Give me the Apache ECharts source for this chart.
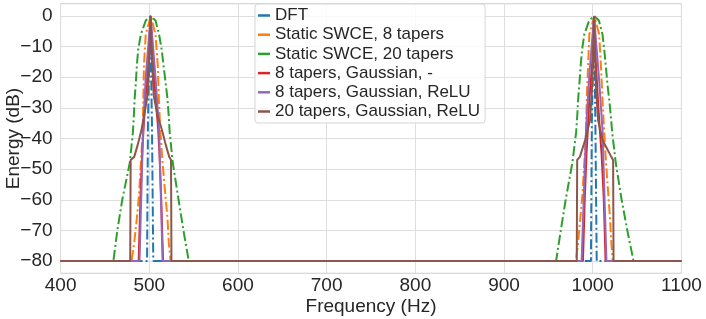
<!DOCTYPE html>
<html>
<head>
<meta charset="utf-8">
<script src="https://cdn.jsdelivr.net/npm/echarts@6/dist/echarts.min.js"></script>
<style>
html,body{margin:0;padding:0;background:#fff;}
#chart{width:706px;height:319px;}
</style>
</head>
<body>
<div id="chart"></div>
<script>
// ---- data (frequency in Hz, energy in dB) ----
const seriesNames = [
  'DFT',
  'Static SWCE, 8 tapers',
  'Static SWCE, 20 tapers',
  '8 tapers, Gaussian, -',
  '8 tapers, Gaussian, ReLU',
  '20 tapers, Gaussian, ReLU'
];
const seriesColors = ['#1f77b4', '#ff7f0e', '#2ca02c', '#d62728', '#9467bd', '#8c564b'];
const yTickValues = [-80, -70, -60, -50, -40, -30, -20, -10, 0];

const dft = [
  [400,-80],[497.5,-80],[498.5,-35],[501,0],[503,-35],[504.5,-80],
  [998,-80],[999,-35],[1001.5,0],[1003,-35],[1004.5,-80],[1100,-80]
];
const swce8 = [
  [400,-80],[480,-80],[483,-74],[486,-66],[488.5,-58],[490.5,-48],[492.5,-38],[493.3,-27],[494,-16],[496,-6],
  [501.8,0],[507,-6],[509.5,-16],[510.8,-27],[512.5,-38],[515,-48],[518,-58],[520.5,-66],[522,-74],[524,-80],
  [981,-80],[983.5,-74],[986,-66],[988.5,-58],[990.5,-48],[992.5,-38],[993.3,-27],[994.8,-16],[996.2,-6],
  [1001.8,0],[1007.3,-6],[1009.2,-16],[1011,-27],[1013,-38],[1015,-48],[1017.5,-58],[1019.5,-66],[1021,-74],[1022.5,-80],
  [1100,-80]
];
const swce20 = [
  [400,-80],[459.5,-80],[464,-70],[469.5,-60],[478,-48],[481.5,-38],[482.5,-33],[483.5,-27],[484.8,-22],[486,-16],
  [487.5,-11],[490.5,-6],[496,-1.5],[501.5,0],[507,-1.5],[511,-6],[514,-11],[516,-16],[518.5,-22],[520.5,-27],
  [522,-33],[523,-38],[526.5,-48],[533,-60],[538.5,-70],[544.5,-80],
  [958.7,-80],[964,-70],[969.5,-60],[977,-48],[981.3,-38],[982.5,-33],[983.6,-27],[985,-22],[986.5,-16],
  [988,-11],[990.5,-6],[996,-1.5],[1001.5,0],[1007,-1.5],[1011,-6],[1013,-11],[1014.7,-16],[1016.5,-22],[1018.5,-27],
  [1020.5,-33],[1022,-38],[1026,-48],[1032.6,-60],[1039,-70],[1046,-80],[1100,-80]
];
const gauss8 = [
  [400,-80],[488,-80],[490,-60],[492,-45],[493.5,-37],[495.5,-28],[499,-15],[501.5,0],[504,-15],[507.5,-28],
  [510,-37],[511.5,-45],[513.5,-60],[515.5,-80],
  [989,-80],[991,-60],[993,-45],[994.5,-37],[996,-28],[999.5,-15],[1001.5,0],[1003.5,-15],[1006,-28],
  [1008,-37],[1010,-45],[1012.5,-60],[1014.5,-80],[1100,-80]
];
const gauss8Relu = [
  [400,-80],[489,-80],[493,-37],[496,-20],[501.5,0],[507,-20],[511,-37],[515,-80],
  [987.5,-80],[992.5,-37],[996,-20],[1001.5,0],[1007,-20],[1011,-37],[1015.5,-80],[1100,-80]
];
const gauss20Relu = [
  [400,-80],[478.5,-80],[479,-47],[483,-46],[487,-42],[491,-37.5],[494.5,-32],[498,-26],[500,-14],[501.5,0],
  [503,-14],[505,-26],[509,-32],[514.5,-37.5],[518.5,-42],[522.5,-46],[524.5,-47],[525,-80],
  [982,-80],[982.5,-47],[985.5,-46],[991.5,-40.5],[997,-34],[999.5,-22],[1001.5,0],[1003.5,-22],[1006,-34],
  [1011,-40.5],[1021,-46],[1023,-47],[1023.5,-80],[1100,-80]
];

// ---- chart ----
const seriesData = [dft, swce8, swce20, gauss8, gauss8Relu, gauss20Relu];
const dashDot = [10, 3, 2, 3];
const lineTypes = [dashDot, dashDot, dashDot, 'solid', 'solid', 'solid'];
const FONT = 'Liberation Sans, Arial, sans-serif';
const TXT = '#262626';

const chart = echarts.init(document.getElementById('chart'), null, {renderer: 'canvas'});
chart.setOption({
  animation: false,
  backgroundColor: '#ffffff',
  textStyle: {fontFamily: FONT},
  grid: {
    left: 60.6, top: 3.75, width: 620.8, height: 269.5,
    containLabel: false, outerBoundsMode: 'none',
    show: true, borderColor: '#cccccc', borderWidth: 1, backgroundColor: 'transparent'
  },
  legend: {
    orient: 'vertical',
    left: 255, top: 4,
    data: seriesNames,
    icon: 'rect',
    itemWidth: 12, itemHeight: 2.5,
    itemGap: 0.2,
    padding: [2, 5, 2, 3],
    backgroundColor: 'rgba(255,255,255,0.85)',
    borderColor: '#d5d5d5', borderWidth: 1, borderRadius: 3,
    textStyle: {fontFamily: FONT, fontSize: 17, color: TXT, lineHeight: 19, padding: [0, 0, 0, 0]},
    itemStyle: {borderWidth: 0}
  },
  xAxis: {
    type: 'value', min: 400, max: 1100, interval: 100,
    name: 'Frequency (Hz)', nameLocation: 'middle', nameGap: 24, nameMoveOverlap: false,
    nameTextStyle: {fontFamily: FONT, fontSize: 19, color: TXT, verticalAlign: 'top'},
    axisLine: {show: false}, axisTick: {show: false},
    axisLabel: {fontFamily: FONT, fontSize: 19, color: TXT, margin: 3, formatter: v => String(v)},
    splitLine: {show: true, lineStyle: {color: '#dedede', width: 1}}
  },
  yAxis: {
    type: 'value', min: -84, max: 4,
    name: 'Energy (dB)', nameLocation: 'middle', nameGap: 37, nameMoveOverlap: false,
    nameTextStyle: {fontFamily: FONT, fontSize: 19, color: TXT},
    axisLine: {show: false},
    axisTick: {show: false, customValues: yTickValues},
    axisLabel: {
      fontFamily: FONT, fontSize: 19, color: TXT, margin: 8,
      customValues: yTickValues,
      formatter: v => (v < 0 ? '\u2212' + (-v) : String(v))
    },
    splitLine: {show: true, lineStyle: {color: '#dedede', width: 1}}
  },
  series: seriesData.map((d, i) => ({
    name: seriesNames[i],
    type: 'line',
    data: d,
    showSymbol: false,
    symbol: 'none',
    color: seriesColors[i],
    lineStyle: {color: seriesColors[i], width: 2, type: lineTypes[i]},
    itemStyle: {color: seriesColors[i]},
    z: 2 + i
  }))
});
</script>
</body>
</html>
